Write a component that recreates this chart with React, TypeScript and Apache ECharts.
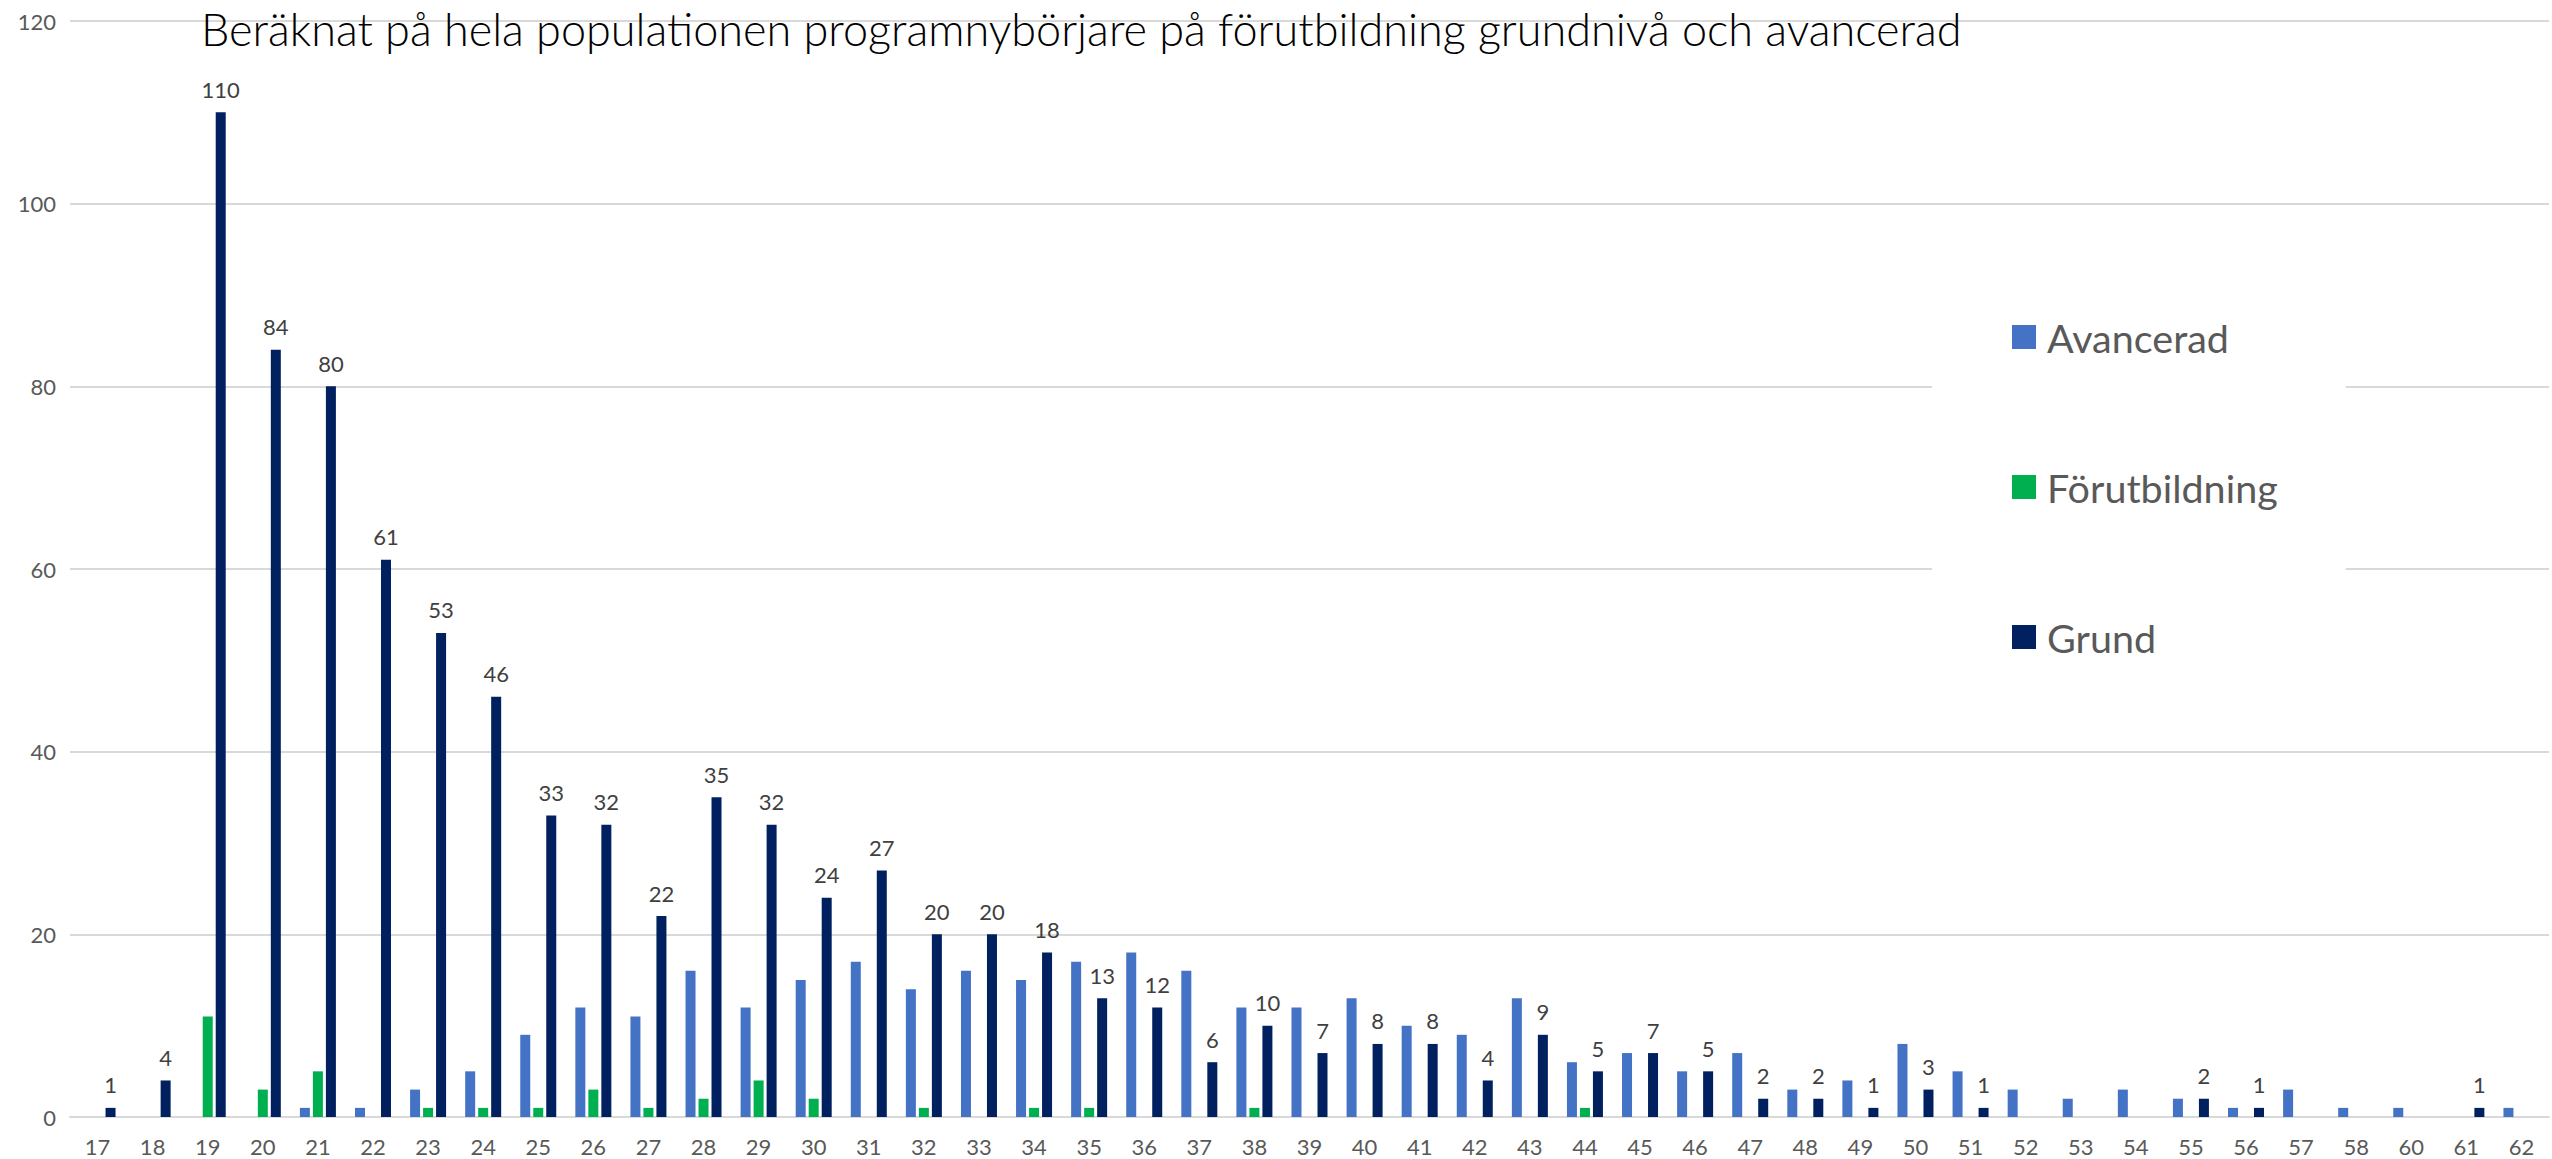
import React, { useEffect, useRef } from "react";
import * as echarts from "echarts";

const categories = ["17","18","19","20","21","22","23","24","25","26","27","28","29","30","31","32","33","34","35","36","37","38","39","40","41","42","43","44","45","46","47","48","49","50","51","52","53","54","55","56","57","58","60","61","62"];

const avancerad = [null,null,null,null,1,1,3,5,9,12,11,16,12,15,17,14,16,15,17,18,16,12,12,13,10,9,13,6,7,5,7,3,4,8,5,3,2,3,2,1,3,1,1,null,1];

const forutbildning = [null,null,11,3,5,null,1,1,1,3,1,2,4,2,null,1,null,1,1,null,null,1,null,null,null,null,null,1,null,null,null,null,null,null,null,null,null,null,null,null,null,null,null,null,null];

const grund = [1,4,110,84,80,61,53,46,33,32,22,35,32,24,27,20,20,18,13,12,6,10,7,8,8,4,9,5,7,5,2,2,1,3,1,null,null,null,2,1,null,null,null,1,null];

const seriesNames = ["Avancerad", "Förutbildning", "Grund"];
const seriesColors = ["#4472C4", "#00B050", "#002060"];
const titleText = "Beräknat på hela populationen programnybörjare på förutbildning grundnivå och avancerad";

const FONT = "Lato, 'Open Sans', sans-serif";

export default function App() {
  const ref = useRef<HTMLDivElement>(null);
  useEffect(() => {
    document.body.style.margin = "0";
    const chart = echarts.init(ref.current!, null, { renderer: "svg" });
    const data = [avancerad, forutbildning, grund];
    chart.setOption({
      animation: false,
      backgroundColor: "#ffffff",
      textStyle: { fontFamily: FONT },
      title: {
        text: titleText,
        left: 196,
        top: -2,
        textStyle: { fontFamily: FONT, fontSize: 45, fontWeight: 300, color: "#000000", lineHeight: 52 },
      },
      legend: {
        orient: "vertical",
        left: 1932,
        top: 256,
        backgroundColor: "#ffffff",
        padding: [60, 68, 50, 80],
        itemWidth: 24,
        itemHeight: 24,
        itemGap: 108,
        icon: "rect",
        textStyle: { fontFamily: FONT, fontSize: 39.5, color: "#595959", lineHeight: 42, padding: [0, 0, 0, 6] },
        data: seriesNames,
      },
      grid: { left: 70, right: 3, top: 21, bottom: 42, containLabel: false },
      xAxis: {
        type: "category",
        data: categories,
        axisTick: { show: false },
        axisLine: { lineStyle: { color: "#D9D9D9", width: 2 } },
        axisLabel: { color: "#595959", fontSize: 22, fontFamily: FONT, margin: 18, interval: 0 },
      },
      yAxis: {
        type: "value",
        min: 0,
        max: 120,
        interval: 20,
        axisLine: { show: false },
        axisTick: { show: false },
        splitLine: { lineStyle: { color: "#D9D9D9", width: 2 } },
        axisLabel: { color: "#595959", fontSize: 22, fontFamily: FONT, margin: 14 },
      },
      series: seriesNames.map((name, i) => ({
        name,
        type: "bar",
        data: data[i],
        barWidth: 10,
        barGap: "30%",
        itemStyle: { color: seriesColors[i] },
        z: 3,
        label: i === 2
          ? { show: true, position: "top", distance: 12, color: "#404040", fontSize: 22, fontFamily: FONT }
          : { show: false },
      })),
    });
    return () => chart.dispose();
  }, []);
  return <div ref={ref} style={{ width: 2552, height: 1159 }} />;
}
